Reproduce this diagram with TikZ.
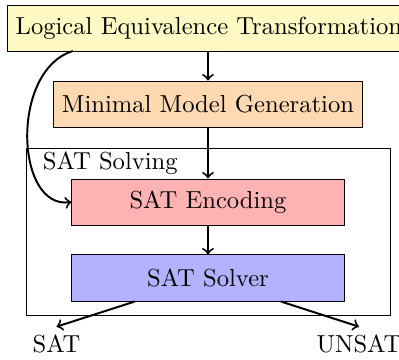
\documentclass[tikz,border=0pt]{standalone}
\definecolor{creamfill}{RGB}{255,250,195}
\begin{document}
\begin{tikzpicture}[x=0.4065pt, y=-0.4065pt,
  box/.style={draw, minimum height=18.7pt, inner sep=3.33pt},
  groupbox/.style={draw, inner sep=0pt},
  flow/.style={->, thick}]
\useasboundingbox (0,0) rectangle (399,360);

% surrounding frame of the SAT stage
\node[groupbox, minimum width=147.6pt, minimum height=67.5pt] (group) at (208.5,232) {};
\node[anchor=base west, inner sep=0pt] (grouplabel) at (42.5,170) {SAT Solving};

% processing steps
\node[box, fill=creamfill, anchor=west] (let) at (7,28.5) {Logical Equivalence Transformation};
\node[box, fill=orange!30, minimum width=125.6pt] (mmg) at (208,104) {Minimal Model Generation};
\node[box, fill=red!30, minimum width=110.6pt] (enc) at (208,202) {SAT Encoding};
\node[box, fill=blue!30, minimum width=110.6pt] (solver) at (208,278) {SAT Solver};

% outcomes
\node[anchor=base] (sat) at (56.5,353) {SAT};
\node[anchor=base] (unsat) at (359,353) {UNSAT};

% connectors
\coordinate (bypass) at (73,51);
\draw[flow] (let.south -| mmg.north) -- (mmg.north);
\draw[flow] (mmg.south) -- (mmg.south |- enc.north);
\draw[flow] (enc.south) -- (solver.north);
\draw[flow] (bypass) .. controls (10,70) and (15,210) .. (enc.west);
\draw[flow] (solver) -- (sat.north);
\draw[flow] (solver) -- (unsat.north);
\end{tikzpicture}
\end{document}
